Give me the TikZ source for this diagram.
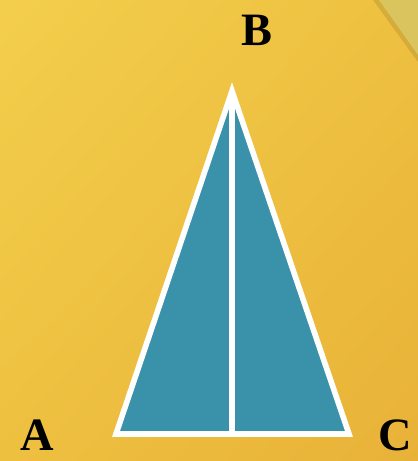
\documentclass[tikz,border=0pt]{standalone}
\usepackage{fontspec}
\usetikzlibrary{shadings}
\setmainfont{Liberation Serif}
\definecolor{bgA}{RGB}{243,206,76}
\definecolor{bgM}{RGB}{238,192,64}
\definecolor{bgB}{RGB}{232,178,56}
\definecolor{curl}{RGB}{218,196,94}
\definecolor{teal}{RGB}{58,146,170}
\begin{document}
\begin{tikzpicture}[x=0.05cm,y=-0.05cm,
  lbl/.style={font=\fontsize{66}{70}\selectfont\bfseries,text=black,inner sep=0pt},
  wline/.style={draw=white,line width=8pt}]
\useasboundingbox (0,0) rectangle (418,461);
\shade[upper left=bgA,upper right=bgM,lower left=bgM,lower right=bgB] (0,0) rectangle (418,461);
% page curl
\fill[black,opacity=0.10] (373,0) -- (418,62) -- (418,0) -- cycle;
\fill[curl] (379,0) -- (418,55) -- (418,0) -- cycle;
% triangle
\coordinate (B) at (232,91);
\coordinate (A) at (116,434);
\coordinate (C) at (349,434);
\coordinate (M) at (232,434);
\fill[teal] (A) -- (B) -- (C) -- cycle;
\draw[wline,line join=miter,miter limit=20] (A) -- (B) -- (C) -- cycle;
\draw[wline] (B) -- (M);
\node[lbl] (lA) at (37,435) {A};
\node[lbl] (lB) at (257,30) {B};
\node[lbl] (lC) at (395,435) {C};
\end{tikzpicture}
\end{document}
